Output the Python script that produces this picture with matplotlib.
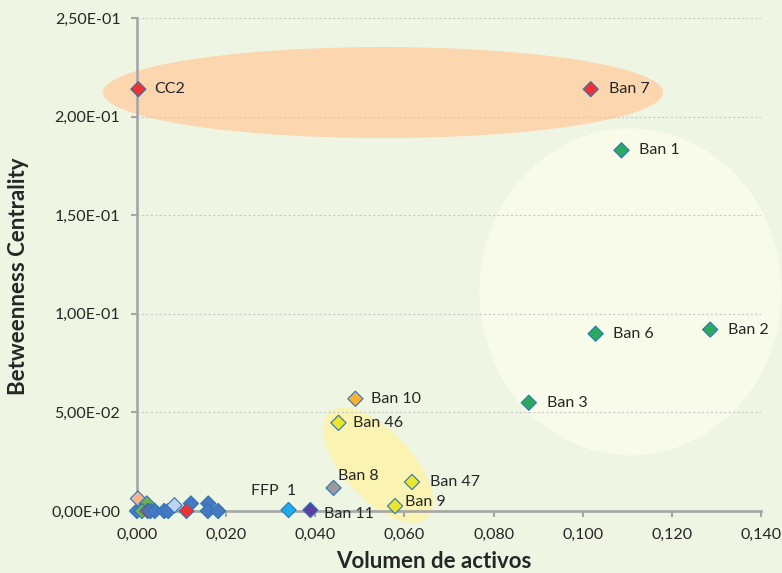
import matplotlib
matplotlib.use("Agg")
import matplotlib.pyplot as plt
from matplotlib.patches import Ellipse
from matplotlib.transforms import IdentityTransform, ScaledTranslation

plt.rcParams["font.family"] = ["Lato", "DejaVu Sans"]

# Datos: volumen de activos vs betweenness centrality
nombres = ["CC2", "Ban 7", "Ban 1", "Ban 6", "Ban 2", "Ban 3", "Ban 10", "Ban 46",
           "Ban 8", "Ban 47", "Ban 9", "FFP  1", "Ban 11"]
volumen = [0.0003, 0.1018, 0.1087, 0.1029, 0.1286, 0.0879, 0.0490, 0.0452,
           0.0441, 0.0617, 0.0579, 0.0340, 0.0389]
betweenness = [0.2139, 0.2139, 0.1829, 0.0899, 0.0920, 0.0549, 0.0569, 0.0447,
               0.0117, 0.0147, 0.0025, 0.0005, 0.0005]
colores = ["#EE3233", "#EE3233", "#2BAA5F", "#2BAA5F", "#2BAA5F", "#2BAA5F", "#FBB034",
           "#EAE62C", "#9A9A9A", "#EAE62C", "#EAE62C", "#1FADEA", "#5B3FA0"]
# desplazamiento de etiquetas (px)
etiq_dx = [16, 18, 18, 17, 18, 18, 16, 15, 4, 18, 10, 8, 14]
etiq_dy = [0, 0, 0, 0, 0, 0, 0, 0, 12, 0, 4, 19, -4]
etiq_ha = ["left"] * 11 + ["right", "left"]

# Puntos sin etiqueta cerca del origen
vol_resto = [0.0000, 0.0002, 0.0022, 0.0011, 0.0024, 0.0030, 0.0040, 0.0061, 0.0070,
             0.0084, 0.0121, 0.0111, 0.0160, 0.0159, 0.0182]
bet_resto = [0.0000, 0.0063, 0.0038, 0.0000, 0.0000, 0.0000, 0.0000, 0.0000, 0.0000,
             0.0029, 0.0038, 0.0000, 0.0038, 0.0000, 0.0000]
col_resto = ["#4679C2", "#F6B58E", "#6DB04E", "#6DB04E", "#EE3233", "#4679C2", "#4679C2",
             "#4679C2", "#4679C2", "#BCD5F0", "#4679C2", "#EE3233", "#4679C2", "#4679C2",
             "#4679C2"]

xticks = [0.0, 0.02, 0.04, 0.06, 0.08, 0.10, 0.12, 0.14]
yticks = [0.0, 0.05, 0.10, 0.15, 0.20, 0.25]

fondo = "#EEF5E3"
gris = "#A6A6A6"
texto = "#262626"

fig = plt.figure(figsize=(7.82, 5.73), dpi=100, facecolor=fondo)
ax = fig.add_axes([137 / 782, 62 / 573, 624 / 782, 493 / 573])
ax.set_facecolor(fondo)
ax.set_xlim(0, 0.14)
ax.set_ylim(0, 0.25)

# Elipses de agrupación (centro en datos, tamaño en píxeles)
def elipse(cx, cy, ancho, alto, angulo, color):
    tr = IdentityTransform() + ScaledTranslation(cx, cy, ax.transData)
    e = Ellipse((0, 0), ancho, alto, angle=angulo, facecolor=color, edgecolor="none",
                transform=tr, zorder=0.5, clip_on=False)
    ax.add_patch(e)

elipse(0.0552, 0.2122, 560, 91, 0, "#FCD6AE")
elipse(0.1107, 0.1111, 302, 327, 0, "#F8FBEA")
elipse(0.0541, 0.0232, 144, 68, -47, "#FAF3B2")

# Rejilla horizontal
for v in yticks[1:]:
    ax.axhline(v, color="#C9C9C9", lw=0.8, ls=(0, (2, 2)), zorder=1)

for s in ["top", "right"]:
    ax.spines[s].set_visible(False)
for s in ["left", "bottom"]:
    ax.spines[s].set_color(gris)
    ax.spines[s].set_linewidth(1.9)
    ax.spines[s].set_zorder(2)

ax.set_xticks(xticks)
ax.set_yticks(yticks)
ax.set_xticklabels([f"{v:.3f}".replace(".", ",") for v in xticks])
ax.set_yticklabels([f"{v:.2E}".replace(".", ",") for v in yticks])
ax.tick_params(axis="both", colors=gris, labelcolor=texto, labelsize=11.5,
               width=1.5, length=4, pad=8)

ax.scatter(vol_resto, bet_resto, marker="D", s=60, c=col_resto, edgecolors="#2E75B6",
           linewidths=0.8, zorder=3, clip_on=False)
ax.scatter(volumen, betweenness, marker="D", s=60, c=colores, edgecolors="#2E75B6",
           linewidths=0.8, zorder=4, clip_on=False)

for n, x, y, dx, dy, ha in zip(nombres, volumen, betweenness, etiq_dx, etiq_dy, etiq_ha):
    ax.annotate(n, (x, y), xytext=(dx * 0.72, dy * 0.72), textcoords="offset points",
                ha=ha, va="center", fontsize=11.5, color=texto, zorder=5)

fig.text(19 / 782, 1 - 276 / 573, "Betweenness Centrality", rotation=90, ha="center",
         va="center", fontsize=16, fontweight="bold", color=texto)
fig.text(434 / 782, 1.5 / 573, "Volumen de activos", ha="center", va="bottom",
         fontsize=16, fontweight="bold", color=texto)

fig.savefig("out.png", dpi=100, facecolor=fondo)
